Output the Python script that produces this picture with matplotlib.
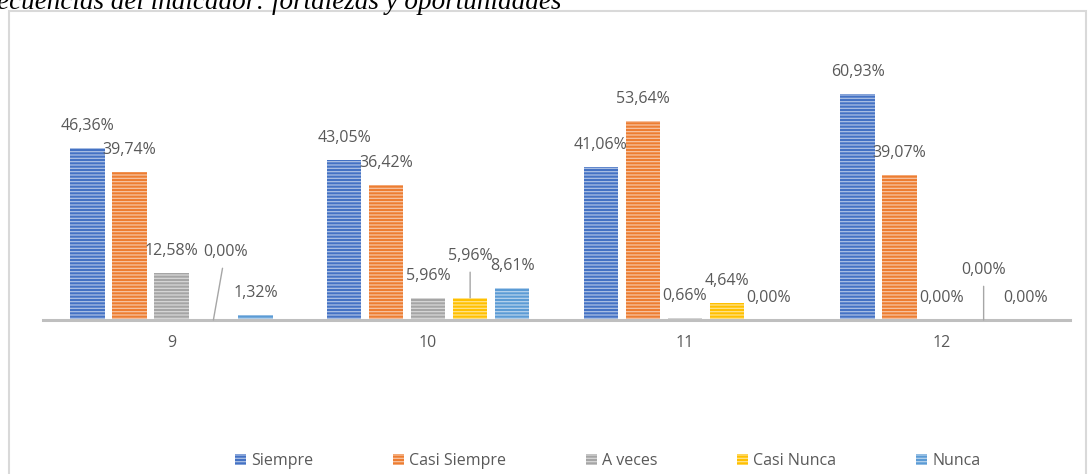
import numpy as np
import matplotlib.pyplot as plt
from matplotlib.patches import Rectangle
from matplotlib.colors import to_rgb

plt.rcParams['font.family'] = ['Open Sans', 'DejaVu Sans']
plt.rcParams['hatch.linewidth'] = 0.9

# data
categories = ["9", "10", "11", "12"]
series = ["Siempre", "Casi Siempre", "A veces", "Casi Nunca", "Nunca"]
siempre = [46.36, 43.05, 41.06, 60.93]
casi_siempre = [39.74, 36.42, 53.64, 39.07]
a_veces = [12.58, 5.96, 0.66, 0.00]
casi_nunca = [0.00, 5.96, 4.64, 0.00]
nunca = [1.32, 8.61, 0.00, 0.00]
values = [siempre, casi_siempre, a_veces, casi_nunca, nunca]
colors = ["#4472C4", "#ED7D31", "#A5A5A5", "#FFC000", "#5B9BD5"]
title = "Frecuencias del indicador: fortalezas y oportunidades"

# labels that Excel moved away from the bar (series, category) -> offset in px
moved = {(3, 0): (12, 68), (3, 1): (0, 42), (3, 3): (0, 50)}

def tint(c, f=0.55):
    r = np.array(to_rgb(c))
    return tuple(r + (1 - r) * f)

fig = plt.figure(figsize=(10.91, 4.74), dpi=100)
ax = fig.add_axes([43 / 1091, 154 / 474, 1027 / 1091, 260 / 474])

x = np.arange(len(categories))
step = 0.1636
width = 0.134
label_color = "#595959"

for i, (name, vals, col) in enumerate(zip(series, values, colors)):
    pos = x + (i - 2) * step
    ax.bar(pos, vals, width, color=col, edgecolor=tint(col), linewidth=0,
           hatch="-----", label=name)
    for j, v in enumerate(vals):
        txt = f"{v:.2f}%".replace(".", ",")
        if (i, j) in moved:
            dx, dy = moved[(i, j)]
            ax.annotate(txt, (pos[j], v), xytext=(dx, dy), textcoords="offset pixels",
                        ha="center", va="center", fontsize=11.5, color=label_color,
                        arrowprops=dict(arrowstyle="-", color="#A6A6A6", lw=1,
                                        shrinkA=4, shrinkB=0))
        else:
            ax.annotate(txt, (pos[j], v), xytext=(0, 22), textcoords="offset pixels",
                        ha="center", va="center", fontsize=11.5, color=label_color)

ax.set_xlim(-0.5, 3.5)
ax.set_ylim(0, 70)
ax.set_xticks(x)
ax.set_xticklabels(categories, fontsize=11.5, color=label_color)
ax.tick_params(axis="x", length=0, pad=11)
ax.set_yticks([])
for s in ["top", "right", "left"]:
    ax.spines[s].set_visible(False)
ax.spines["bottom"].set_color("#BFBFBF")
ax.spines["bottom"].set_linewidth(2.2)

fig.legend(loc="center", bbox_to_anchor=(0.557, 13 / 474), ncol=5, frameon=False,
           fontsize=11.5, labelcolor=label_color, handlelength=0.7, handleheight=0.7,
           handletextpad=0.3, columnspacing=5.0)

# outer chart border
fig.patches.append(Rectangle((9 / 1091, -0.05), 1077 / 1091, 1.05 - 11 / 474,
                             transform=fig.transFigure, fill=False,
                             edgecolor="#D9D9D9", linewidth=1.5))

fig.text(562 / 1091, 1 - 9 / 474, title, ha="right", va="baseline",
         fontsize=19.5, style="italic", family="Liberation Serif")

fig.savefig("out.png", dpi=100)
